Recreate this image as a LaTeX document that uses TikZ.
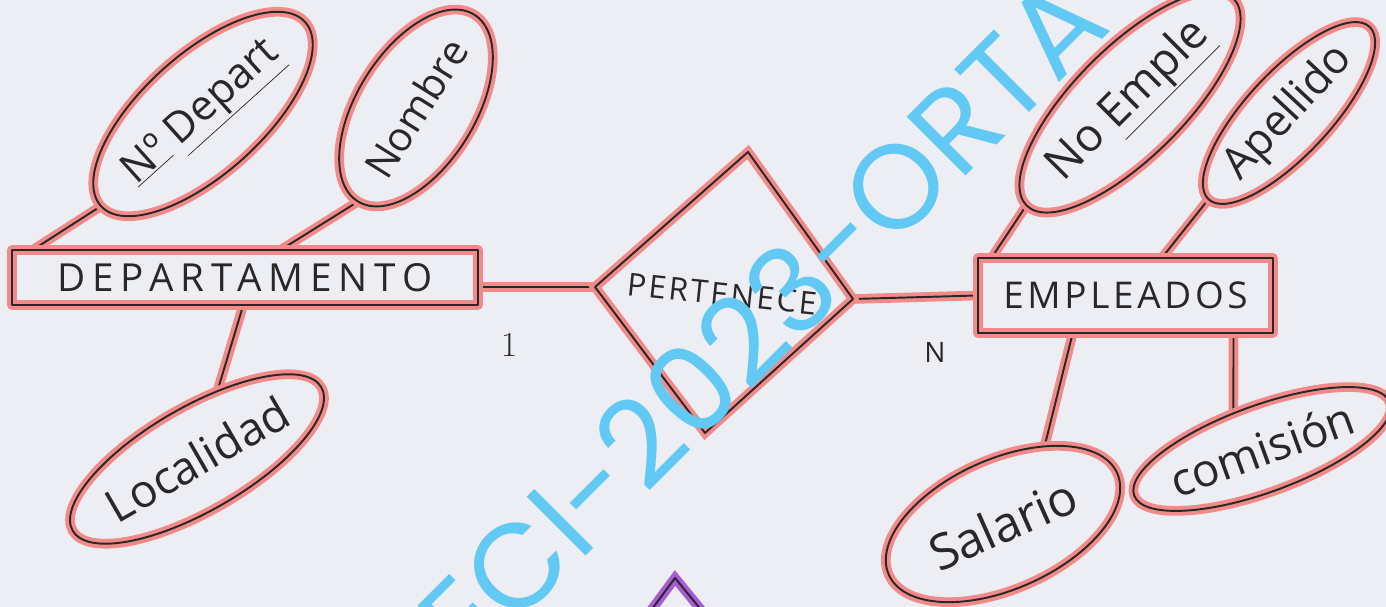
\documentclass[tikz,border=0pt]{standalone}
\usepackage{fontspec}
\newfontfamily\hand{Open Sans}
\newfontfamily\handcaps[LetterSpace=18]{Open Sans}
\newfontfamily\stampfont{Poppins}
\usetikzlibrary{shapes.geometric,calc}
\pgfdeclarelayer{back}
\pgfsetlayers{back,main}
\definecolor{paper}{RGB}{236,238,243}
\definecolor{marker}{RGB}{243,138,138}
\definecolor{pencil}{RGB}{40,40,40}
\definecolor{stamp}{RGB}{98,201,244}
\definecolor{lilac}{RGB}{170,90,210}
\tikzset{
  pen/.style={draw=pencil, line width=1.1pt, line join=round, line cap=round,
    preaction={draw=#1, line width=5.5pt}},
  pen/.default=marker,
  entity/.style={pen, rectangle, inner sep=0pt, text=pencil,
    font=\handcaps\fontsize{22}{22}\selectfont},
  attr/.style={pen, ellipse, inner sep=0pt, text=pencil,
    font=\hand\fontsize{24}{24}\selectfont},
  card/.style={text=pencil, font=\fontsize{20}{20}\selectfont},
}
\begin{document}
\begin{tikzpicture}[x=0.02cm, y=-0.02cm]
  \useasboundingbox (0,0) rectangle (1386,607);
  \clip (0,0) rectangle (1386,607);
  \begin{pgfonlayer}{back}
    \fill[paper] (0,0) rectangle (1386,607);
  \end{pgfonlayer}

  % entidades
  \node[entity, minimum width=9.32cm, minimum height=1.1cm] (dep) at (245,277.5) {DEPARTAMENTO};
  \node[entity, minimum width=5.9cm, minimum height=1.5cm,
    font=\hand\addfontfeature{LetterSpace=10}\fontsize{21}{21}\selectfont] (emp) at (1125.5,295.5) {EMPLEADOS};

  % relacion
  \coordinate (pl) at (595,287);
  \coordinate (pt) at (748,152);
  \coordinate (pr) at (853,299);
  \coordinate (pb) at (705,433);
  \draw[pen] (pl) -- (pt) -- (pr) -- (pb) -- cycle;
  \node[text=pencil, rotate=-6, font=\hand\addfontfeature{LetterSpace=8}\fontsize{18}{18}\selectfont] (per) at (722,294) {PERTENECE};

  % atributos departamento
  \node[attr, minimum width=5.2cm, minimum height=2.4cm, rotate=42] (ndep) at (203,114) {\underline{Nº}\ \underline{Depart}};
  \node[attr, minimum width=4cm, minimum height=2.36cm, rotate=58,
    font=\hand\fontsize{23}{23}\selectfont] (nom) at (416,108) {Nombre};
  \node[attr, minimum width=5.4cm, minimum height=2.08cm, rotate=30,
    font=\hand\fontsize{26}{26}\selectfont] (loc) at (197,459) {Localidad};

  % atributos empleados
  \node[attr, minimum width=5.04cm, minimum height=2.2cm, rotate=45,
    font=\hand\fontsize{26}{26}\selectfont] (nemp) at (1130,102) {No \underline{Emple}};
  \node[attr, minimum width=4.72cm, minimum height=1.68cm, rotate=47,
    font=\hand\fontsize{25}{25}\selectfont] (ape) at (1289,113) {Apellido};
  \node[attr, minimum width=5cm, minimum height=2.6cm, rotate=24,
    font=\hand\fontsize{28}{28}\selectfont] (sal) at (1003,524) {Salario};
  \node[attr, minimum width=5.04cm, minimum height=1.74cm, rotate=20,
    font=\hand\fontsize{26}{26}\selectfont] (com) at (1262,449) {comisión};

  % lineas
  \begin{pgfonlayer}{back}
    \draw[pen] (dep.east |- pl) -- (pl);
    \draw[pen] (pr) -- (emp.west);
    \draw[pen] (ndep.west) -- ($(dep.north west)+(23,0)$);
    \draw[pen] (nom.west) -- ($(dep.north)+(37,0)$);
    \draw[pen] ($(dep.south)+(-2,0)$) -- (loc);
    \draw[pen] (nemp.west) -- ($(emp.north west)+(15,0)$);
    \draw[pen] (ape.west) -- ($(emp.north)+(37,0)$);
    \draw[pen] ($(emp.south)+(-53,0)$) -- (sal.38);
    \draw[pen] ($(emp.south)+(108,0)$) -- (com.108);
  \end{pgfonlayer}

  % cardinalidad
  \node[card] (uno) at (510,345) {1};
  \node[card, font=\hand\fontsize{16}{16}\selectfont] (ene) at (935,352) {N};

  % otra relacion (cortada)
  \coordinate (vtop) at (675,578);
  \draw[pen=lilac] (638,628) -- (vtop) -- (716,628);

  % sello
  \node[text=stamp, rotate=45, anchor=base, font=\stampfont\fontsize{68}{68}\selectfont] (sello) at (792,350) {ECI-2023-ORTA};
\end{tikzpicture}
\end{document}
